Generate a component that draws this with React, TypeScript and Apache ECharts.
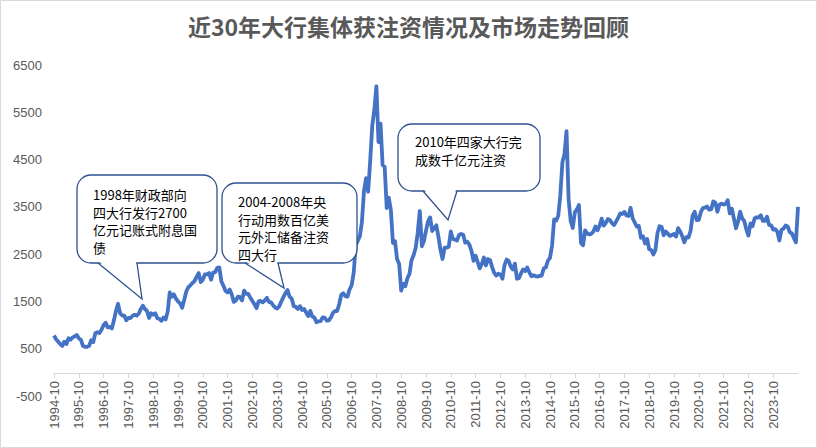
import React, { useEffect, useRef } from "react";
import * as echarts from "echarts";

// Shanghai Composite monthly values, 1994-10 .. 2024-10
const values1990s = [
  780, 700, 650,
  600, 560, 650, 600, 720, 690, 740, 760, 790, 720, 690, 560,
  540, 540, 560, 680, 640, 830, 850, 830, 900, 1000, 1050, 950,
  960, 930, 1100, 1300, 1450, 1250, 1200, 1200, 1100, 1150, 1150, 1194,
  1220, 1200, 1240, 1340, 1410, 1340, 1300, 1150, 1250, 1220, 1250, 1146,
  1130, 1090, 1160, 1120, 1280, 1690, 1600, 1650, 1560, 1500, 1460, 1366,
];
const values2000s = [
  1530, 1710, 1800, 1840, 1890, 1930, 2020, 2100, 1910, 1960, 2070, 2073,
  2100, 1960, 2110, 2120, 2210, 2218, 1920, 1830, 1720, 1690, 1750, 1646,
  1490, 1520, 1600, 1590, 1520, 1730, 1660, 1660, 1580, 1510, 1440, 1357,
  1500, 1510, 1480, 1520, 1576, 1490, 1480, 1420, 1370, 1350, 1400, 1497,
  1590, 1675, 1740, 1600, 1560, 1400, 1386, 1340, 1400, 1320, 1340, 1266,
  1190, 1300, 1180, 1160, 1060, 1080, 1083, 1162, 1155, 1092, 1099, 1161,
  1258, 1299, 1298, 1440, 1641, 1672, 1612, 1601, 1752, 1837, 2099, 2675,
  2786, 2881, 3183, 3841, 4109, 3820, 4471, 5218, 5552, 6050, 4871, 5262,
  4383, 4348, 3473, 3693, 3433, 2736, 2775, 2397, 2293, 1729, 1871, 1821,
  1990, 2082, 2373, 2477, 2632, 2959, 3412, 2667, 2779, 2996, 3195, 3277,
];
const values2010s = [
  2989, 3051, 3109, 2870, 2592, 2398, 2638, 2638, 2655, 2979, 2820, 2808,
  2790, 2905, 2928, 2911, 2743, 2762, 2701, 2567, 2359, 2468, 2333, 2199,
  2292, 2428, 2262, 2396, 2373, 2225, 2103, 2047, 2086, 2069, 1980, 2269,
  2385, 2359, 2236, 2177, 2300, 1979, 1993, 2098, 2175, 2141, 2220, 2116,
  2033, 2056, 2033, 2026, 2039, 2048, 2202, 2217, 2364, 2420, 2683, 3235,
  3210, 3310, 3748, 4442, 4612, 5100, 3664, 3206, 3053, 3383, 3445, 3539,
  2738, 2688, 3004, 2938, 2917, 2930, 2979, 3085, 3005, 3100, 3250, 3104,
  3159, 3242, 3223, 3155, 3117, 3192, 3273, 3361, 3349, 3393, 3317, 3307,
  3481, 3259, 3169, 3082, 3095, 2847, 2876, 2725, 2821, 2603, 2588, 2494,
  2585, 2941, 3091, 3078, 2899, 2979, 2933, 2886, 2905, 2929, 2872, 3050,
];
const values2020s = [
  2977, 2880, 2750, 2860, 2852, 2985, 3310, 3396, 3218, 3225, 3392, 3473,
  3483, 3509, 3441, 3447, 3615, 3591, 3397, 3544, 3568, 3547, 3564, 3640,
  3361, 3462, 3252, 3047, 3186, 3399, 3253, 3202, 3024, 2893, 3151, 3089,
  3255, 3280, 3273, 3323, 3205, 3202, 3291, 3120, 3110, 3018, 3030, 2975,
  2789, 3015, 3041, 3105, 3087, 2967, 2939, 2842, 2750, 3500,
];
const indexValues = [...values1990s, ...values2000s, ...values2010s, ...values2020s];

const startYear = 1994;
const startMonth = 10;
const categories: string[] = indexValues.map((_, i) => {
  const m = startMonth - 1 + i;
  const y = startYear + Math.floor(m / 12);
  const mm = (m % 12) + 1;
  return `${y}-${mm < 10 ? "0" + mm : mm}`;
});

const titleText = "近30年大行集体获注资情况及市场走势回顾";
const note1 = "1998年财政部向\n四大行发行2700\n亿元记账式附息国\n债";
const note2 = "2004-2008年央\n行动用数百亿美\n元外汇储备注资\n四大行";
const note3 = "2010年四家大行完\n成数千亿元注资";

const LINE = "#4472c4";
const BOX = "#2f528f";

function callout(
  rx: number, ry: number, rw: number, rh: number,
  bl: number, br: number, tx: number, ty: number,
  text: string, textX: number, textY: number
) {
  const by = ry + rh;
  return [
    {
      type: "rect", z: 100,
      shape: { x: rx, y: ry, width: rw, height: rh, r: 14 },
      style: { fill: "#fff", stroke: BOX, lineWidth: 1.3 },
    },
    {
      type: "polygon", z: 101,
      shape: { points: [[bl + 1, by - 1.5], [br - 1, by - 1.5], [tx, ty]] },
      style: { fill: "#fff", stroke: null },
    },
    {
      type: "polyline", z: 102,
      shape: { points: [[bl, by], [tx, ty], [br, by]] },
      style: { fill: null, stroke: BOX, lineWidth: 1.3 },
    },
    {
      type: "text", z: 103, x: textX, y: textY,
      style: {
        text, fill: "#000", fontSize: 13, lineHeight: 17.5,
        fontFamily: "'Noto Sans CJK SC', 'Noto Sans', sans-serif",
        textAlign: "left", textVerticalAlign: "top",
      },
    },
  ];
}

export default function App() {
  const ref = useRef<HTMLDivElement>(null);
  useEffect(() => {
    document.body.style.margin = "0";
    if (!ref.current) return;
    const chart = echarts.init(ref.current, undefined, { renderer: "svg" });
    const showIdx = (idx: number) => idx % 12 === 0 && idx < indexValues.length - 1;
    chart.setOption({
      animation: false,
      backgroundColor: "#fff",
      grid: [
        // data grid: -500 .. 6500
        { left: 54, right: 19, top: 65, bottom: 52, containLabel: false, outerBoundsMode: "none" },
        // axis grid: its bottom edge sits at value 0 of the data grid
        { left: 54, right: 19, top: 65, bottom: 75, containLabel: false, outerBoundsMode: "none" },
      ],
      xAxis: [
        {
          type: "category", gridIndex: 0, data: categories, boundaryGap: false, show: false,
        },
        {
          type: "category", gridIndex: 1, data: categories, boundaryGap: false,
          axisLine: { onZero: false, lineStyle: { color: "#d9d9d9", width: 1 } },
          axisTick: { show: true, length: 5, interval: showIdx, lineStyle: { color: "#d9d9d9" } },
          axisLabel: {
            interval: showIdx, rotate: 90, margin: 8, fontSize: 13, color: "#595959",
            fontFamily: "'Liberation Sans', sans-serif",
          },
          splitLine: { show: false },
        },
      ],
      yAxis: [
        {
          type: "value", gridIndex: 0,
          min: -500, max: 6500, interval: 500,
          axisLine: { show: false },
          axisTick: { show: false },
          splitLine: { show: false },
          axisLabel: {
            margin: 12, fontSize: 13, color: "#595959",
            fontFamily: "'Liberation Sans', sans-serif",
            formatter: (v: number) => (v % 1000 === 0 ? "" : String(v)),
          },
        },
        { type: "value", gridIndex: 1, min: 0, max: 1, show: false },
      ],
      series: [
        {
          type: "line", xAxisIndex: 0, yAxisIndex: 0,
          data: indexValues, symbol: "none", showSymbol: false,
          lineStyle: { color: LINE, width: 3.8, join: "round" },
          z: 2,
        },
      ],
      graphic: [
        {
          type: "rect", z: 90,
          shape: { x: 0.5, y: 0.5, width: 816, height: 447 },
          style: { fill: null, stroke: "#d9d9d9", lineWidth: 1 },
        },
        {
          type: "text", z: 90, x: 408.5, y: 26,
          style: {
            text: titleText, fill: "#595959", fontSize: 23, fontWeight: "bold",
            fontFamily: "'Noto Sans CJK SC', sans-serif",
            textAlign: "center", textVerticalAlign: "middle",
          },
        },
        ...callout(77, 175, 140, 88, 98, 137, 142, 299, note1, 93, 186),
        ...callout(222, 183, 135, 80, 245, 278, 284, 288, note2, 238, 193),
        ...callout(398, 124, 142, 67, 423, 457, 448, 220, note3, 415, 133),
      ],
    });
    return () => chart.dispose();
  }, []);
  return <div ref={ref} style={{ width: 817, height: 448 }} />;
}
